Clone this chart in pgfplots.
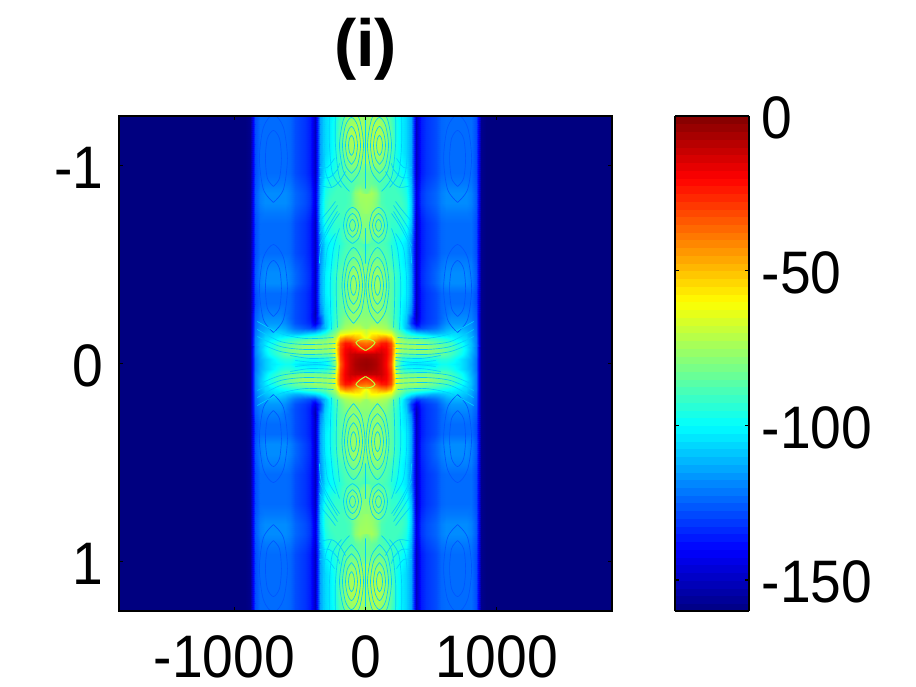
\documentclass[border=0pt]{standalone}
\usepackage{fontspec}
\setmainfont{Liberation Sans}
\newfontfamily\tickfont[FakeStretch=0.92]{Liberation Sans}
\usepackage{pgfplots}
\usepackage{pgfplotstable}
\pgfplotsset{compat=1.18}

% quadrant values, the field is mirrored about both axes
% columns: dx = 0,5,...,120 px from centre (25 per row)
% near table: dy = 0,5,...,50 px
\pgfplotstableread[row sep=\\]{
z\\
-4\\-5\\-7\\-12\\-20\\-35\\-80\\-95\\-102\\-104\\-104\\-104\\-104\\-104\\-102\\-98\\-98\\-100\\-102\\-104\\-108\\-114\\-122\\-158\\-160\\
-5\\-6\\-8\\-12\\-19\\-32\\-75\\-90\\-95\\-96\\-98\\-98\\-96\\-96\\-96\\-94\\-94\\-96\\-100\\-104\\-108\\-113\\-122\\-158\\-160\\
-10\\-10\\-10\\-12\\-18\\-30\\-68\\-80\\-82\\-82\\-82\\-82\\-82\\-82\\-84\\-84\\-86\\-90\\-94\\-98\\-104\\-112\\-120\\-158\\-160\\
-28\\-26\\-20\\-16\\-19\\-30\\-64\\-74\\-76\\-76\\-76\\-76\\-76\\-78\\-80\\-82\\-85\\-88\\-92\\-96\\-102\\-110\\-120\\-158\\-160\\
-38\\-36\\-32\\-24\\-23\\-33\\-66\\-74\\-76\\-76\\-76\\-78\\-80\\-82\\-84\\-86\\-88\\-90\\-95\\-98\\-104\\-110\\-120\\-158\\-160\\
-52\\-52\\-48\\-42\\-40\\-48\\-72\\-78\\-84\\-85\\-86\\-88\\-90\\-92\\-94\\-96\\-98\\-100\\-102\\-104\\-106\\-112\\-120\\-158\\-160\\
-62\\-60\\-60\\-62\\-64\\-66\\-80\\-88\\-96\\-102\\-106\\-108\\-110\\-112\\-112\\-110\\-108\\-106\\-106\\-108\\-110\\-114\\-122\\-158\\-160\\
-72\\-70\\-70\\-72\\-74\\-80\\-88\\-98\\-110\\-120\\-130\\-128\\-126\\-124\\-122\\-118\\-114\\-112\\-112\\-112\\-114\\-116\\-123\\-158\\-160\\
-76\\-76\\-76\\-76\\-78\\-84\\-90\\-100\\-110\\-130\\-145\\-134\\-131\\-129\\-127\\-122\\-118\\-116\\-116\\-116\\-116\\-118\\-124\\-158\\-160\\
-78\\-78\\-78\\-78\\-80\\-85\\-92\\-100\\-108\\-128\\-150\\-136\\-132\\-130\\-128\\-124\\-120\\-118\\-118\\-118\\-118\\-120\\-125\\-158\\-160\\
-80\\-78\\-78\\-78\\-82\\-86\\-92\\-100\\-106\\-120\\-152\\-136\\-132\\-130\\-128\\-124\\-122\\-120\\-120\\-120\\-120\\-121\\-126\\-158\\-160\\
}\neartable

% far table: dy = 50,60,...,250 px
\pgfplotstableread[row sep=\\]{
z\\
-80\\-78\\-78\\-78\\-82\\-86\\-92\\-100\\-106\\-120\\-152\\-136\\-132\\-130\\-128\\-124\\-122\\-120\\-120\\-120\\-120\\-121\\-126\\-158\\-160\\
-80\\-78\\-78\\-80\\-82\\-86\\-92\\-100\\-104\\-116\\-150\\-136\\-132\\-130\\-128\\-124\\-123\\-123\\-123\\-123\\-123\\-123\\-128\\-158\\-160\\
-78\\-76\\-76\\-78\\-82\\-86\\-92\\-98\\-102\\-114\\-150\\-136\\-132\\-130\\-128\\-124\\-123\\-123\\-123\\-123\\-123\\-123\\-128\\-158\\-160\\
-78\\-76\\-76\\-78\\-82\\-86\\-92\\-98\\-102\\-114\\-150\\-134\\-130\\-127\\-124\\-120\\-118\\-118\\-118\\-118\\-118\\-120\\-126\\-158\\-160\\
-78\\-76\\-76\\-78\\-82\\-86\\-92\\-98\\-102\\-114\\-150\\-134\\-130\\-127\\-124\\-120\\-118\\-118\\-118\\-118\\-118\\-120\\-126\\-158\\-160\\
-82\\-80\\-80\\-82\\-86\\-90\\-94\\-100\\-104\\-116\\-150\\-135\\-131\\-128\\-126\\-122\\-120\\-120\\-120\\-120\\-120\\-121\\-127\\-158\\-160\\
-84\\-84\\-84\\-86\\-88\\-92\\-96\\-100\\-104\\-118\\-150\\-136\\-132\\-130\\-128\\-124\\-123\\-123\\-123\\-123\\-123\\-123\\-128\\-158\\-160\\
-90\\-88\\-88\\-88\\-90\\-94\\-98\\-100\\-104\\-118\\-150\\-136\\-132\\-130\\-128\\-124\\-123\\-123\\-123\\-123\\-123\\-123\\-128\\-158\\-160\\
-82\\-80\\-80\\-82\\-86\\-92\\-94\\-96\\-100\\-114\\-150\\-136\\-132\\-130\\-128\\-124\\-123\\-123\\-123\\-123\\-123\\-123\\-128\\-158\\-160\\
-80\\-78\\-80\\-82\\-88\\-92\\-92\\-94\\-96\\-110\\-150\\-136\\-132\\-130\\-128\\-124\\-123\\-123\\-123\\-123\\-123\\-123\\-128\\-158\\-160\\
-78\\-78\\-80\\-84\\-88\\-90\\-90\\-92\\-94\\-108\\-148\\-134\\-130\\-128\\-126\\-122\\-121\\-121\\-121\\-121\\-121\\-122\\-127\\-158\\-160\\
-76\\-76\\-80\\-88\\-90\\-90\\-90\\-90\\-94\\-108\\-146\\-132\\-128\\-126\\-124\\-120\\-118\\-118\\-118\\-118\\-118\\-120\\-126\\-158\\-160\\
-74\\-74\\-78\\-88\\-90\\-90\\-90\\-92\\-96\\-110\\-146\\-132\\-128\\-126\\-124\\-120\\-118\\-118\\-118\\-118\\-118\\-120\\-126\\-158\\-160\\
-80\\-84\\-86\\-88\\-90\\-90\\-92\\-94\\-98\\-112\\-148\\-134\\-130\\-128\\-126\\-122\\-121\\-121\\-121\\-121\\-121\\-122\\-127\\-158\\-160\\
-84\\-84\\-84\\-84\\-86\\-90\\-94\\-98\\-102\\-114\\-150\\-136\\-132\\-130\\-128\\-124\\-123\\-123\\-123\\-123\\-123\\-123\\-128\\-158\\-160\\
-80\\-78\\-78\\-80\\-84\\-90\\-96\\-100\\-104\\-114\\-150\\-136\\-132\\-130\\-128\\-124\\-123\\-123\\-123\\-123\\-123\\-123\\-128\\-158\\-160\\
-76\\-74\\-74\\-76\\-80\\-88\\-96\\-102\\-106\\-114\\-150\\-136\\-132\\-130\\-128\\-124\\-123\\-123\\-123\\-123\\-123\\-123\\-128\\-158\\-160\\
-76\\-72\\-72\\-74\\-78\\-86\\-96\\-102\\-106\\-114\\-150\\-136\\-132\\-130\\-128\\-124\\-123\\-123\\-123\\-123\\-123\\-123\\-128\\-158\\-160\\
-76\\-72\\-72\\-74\\-78\\-86\\-96\\-102\\-106\\-114\\-150\\-136\\-132\\-130\\-128\\-124\\-123\\-123\\-123\\-123\\-123\\-123\\-128\\-158\\-160\\
-78\\-74\\-74\\-76\\-80\\-88\\-96\\-102\\-106\\-114\\-150\\-136\\-132\\-130\\-128\\-124\\-123\\-123\\-123\\-123\\-123\\-123\\-128\\-158\\-160\\
-80\\-76\\-76\\-78\\-82\\-90\\-98\\-102\\-106\\-114\\-150\\-136\\-132\\-130\\-128\\-124\\-123\\-123\\-123\\-123\\-123\\-123\\-128\\-158\\-160\\
}\fartable

% fringe lines in the central band, dx dy in px from centre
\pgfplotstableread[row sep=\\]{
dx dy\\
14 208\\16 211\\17 218\\16 225\\14 228\\12 225\\11 218\\12 211\\14 208\\nan nan\\
14 199\\18 205\\20 218\\18 231\\14 237\\10 231\\8 218\\10 205\\14 199\\nan nan\\
14 190\\20 198\\23 218\\20 238\\14 246\\8 238\\5 218\\8 198\\14 190\\nan nan\\
14 181\\22 192\\26 218\\22 244\\14 255\\6 244\\2 218\\6 192\\14 181\\nan nan\\
16 172\\26 186\\30 218\\30 250\\nan nan\\
24 176\\33 190\\36 218\\36 250\\nan nan\\
34 176\\40 192\\42 218\\42 250\\nan nan\\
12 68\\14 71\\15 78\\14 85\\12 88\\10 85\\9 78\\10 71\\12 68\\nan nan\\
12 59\\16 65\\18 78\\16 91\\12 97\\8 91\\6 78\\8 65\\12 59\\nan nan\\
12 50\\18 58\\21 78\\18 98\\12 106\\6 98\\3 78\\6 58\\12 50\\nan nan\\
12 40\\20 52\\23.5 78\\20 104\\12 116\\4 104\\0.5 78\\4 52\\12 40\\nan nan\\
13 132\\15 134\\16 138\\15 142\\13 144\\11 142\\10 138\\11 134\\13 132\\nan nan\\
13 126\\17 130\\19 138\\17 146\\13 150\\9 146\\7 138\\9 130\\13 126\\nan nan\\
13 120\\19 125\\22 138\\19 151\\13 156\\7 151\\4 138\\7 125\\13 120\\nan nan\\
28 36\\29 60\\29 85\\26 118\\nan nan\\
34 34\\35 60\\35 85\\32 115\\26 135\\nan nan\\
40 36\\41 60\\41 85\\38 115\\30 130\\nan nan\\
46 100\\44 118\\34 138\\26 150\\nan nan\\
46 118\\38 135\\28 152\\nan nan\\
46 130\\36 146\\28 158\\nan nan\\
46 142\\36 154\\30 162\\nan nan\\
46 178\\34 176\\26 182\\20 192\\nan nan\\
46 186\\36 186\\28 194\\26 200\\nan nan\\
46 196\\38 196\\31 205\\nan nan\\
0 175\\0 250\\nan nan\\
0 100\\0 135\\nan nan\\
30 10\\60 9\\85 12\\105 20\\nan nan\\
30 15\\60 14\\85 17\\108 27\\nan nan\\
30 20\\60 19\\85 22\\108 34\\nan nan\\
32 26\\60 25\\85 30\\108 42\\nan nan\\
30 3\\50 1\\70 3\\nan nan\\
30 6\\55 5\\75 8\\
}\fringetable

% fainter rings in the side bands
\pgfplotstableread[row sep=\\]{
dx dy\\
92 47\\98 55\\100 75\\98 95\\92 103\\86 95\\84 75\\86 55\\92 47\\nan nan\\
92 31\\102 44\\106 75\\102 106\\92 119\\82 106\\78 75\\82 44\\92 31\\nan nan\\
92 177\\98 185\\100 205\\98 225\\92 233\\86 225\\84 205\\86 185\\92 177\\nan nan\\
92 161\\102 174\\106 205\\102 236\\92 249\\82 236\\78 205\\82 174\\92 161\\
}\sidetable

% small cap above and below the red square
\pgfplotstableread[row sep=\\]{
dx dy\\
0 24.5\\5 24\\9.5 21\\5 16\\0 13\\
}\captable

% draw one quadrant: #1 table, #2 y step, #3 y start, #4 sign x, #5 sign y
\newcommand{\quadrant}[5]{
  \addplot[surf,shader=interp,mesh/cols=25,point meta=\thisrow{z}] table[
    x index=0,y index=0,
    x expr={#4*mod(\coordindex,25)*38.17},
    y expr={#5*(#3+floor(\coordindex/25)*#2)}
  ] {#1};
}
% same curves in all four quadrants: #1 table, #2 plot options
\newcommand{\fourway}[2]{
  \addplot[no marks,smooth,unbounded coords=jump,#2] table[x expr={\thisrow{dx}*7.634},y expr={\thisrow{dy}*0.005053}] {#1};
  \addplot[no marks,smooth,unbounded coords=jump,#2] table[x expr={-\thisrow{dx}*7.634},y expr={\thisrow{dy}*0.005053}] {#1};
  \addplot[no marks,smooth,unbounded coords=jump,#2] table[x expr={\thisrow{dx}*7.634},y expr={-\thisrow{dy}*0.005053}] {#1};
  \addplot[no marks,smooth,unbounded coords=jump,#2] table[x expr={-\thisrow{dx}*7.634},y expr={-\thisrow{dy}*0.005053}] {#1};
}
\definecolor{fringe}{RGB}{0,205,255}
\definecolor{sidefringe}{RGB}{0,85,255}
\definecolor{capline}{RGB}{190,255,60}

\begin{document}
\begin{tikzpicture}[x=1pt,y=1pt]
\path[use as bounding box] (0,0) rectangle (687,514.5);
\begin{axis}[
  at={(89.25pt,56.25pt)},anchor=south west,
  scale only axis,
  width=369.75pt,height=371.25pt,
  xmin=-1880,xmax=1880,
  ymin=-1.25,ymax=1.25,
  y dir=reverse,
  axis on top,
  axis line style={line width=1.5pt},
  tick align=inside,
  major tick length=3pt,
  tick style={line width=1pt,black},
  xtick={-1000,0,1000},
  xticklabels={-1000\hspace*{15pt},0,1000},
  ytick={-1,0,1},
  yticklabels={-1,0,1},
  tick label style={font=\tickfont\fontsize{45}{45}\selectfont},
  xticklabel style={inner sep=0pt,yshift=-18.5pt},
  yticklabel style={xshift=-8pt,yshift=-1.5pt},
  title={\bfseries (i)},
  title style={font=\fontsize{50}{50}\selectfont,yshift=17pt},
  colormap/jet,
  point meta min=-160,point meta max=0,
  colorbar sampled,
  colorbar style={
    samples=65,
    at={(1.1278,0)},anchor=south west,
    scale only axis,
    width=55.5pt,height=371.25pt,
    y dir=normal,
    axis line style={line width=1.5pt},
    ytick={-150,-100,-50,0},
    yticklabels={-150,-100,-50,0},
    ytick pos=both,
    yticklabel pos=right,
    tick align=inside,
    major tick length=3pt,
    yticklabel style={font=\tickfont\fontsize{45}{45}\selectfont,xshift=6pt,yshift=-1.5pt},
  },
]
\quadrant{\neartable}{0.02527}{0}{1}{1}
\quadrant{\neartable}{0.02527}{0}{-1}{1}
\quadrant{\neartable}{0.02527}{0}{1}{-1}
\quadrant{\neartable}{0.02527}{0}{-1}{-1}
\quadrant{\fartable}{0.05053}{0.25265}{1}{1}
\quadrant{\fartable}{0.05053}{0.25265}{-1}{1}
\quadrant{\fartable}{0.05053}{0.25265}{1}{-1}
\quadrant{\fartable}{0.05053}{0.25265}{-1}{-1}
% dark outer strips
\addplot[surf,shader=interp,mesh/cols=2,point meta=explicit] coordinates {
  (916,-1.25)[-160] (1880,-1.25)[-160]
  (916,1.25)[-160] (1880,1.25)[-160]
};
\addplot[surf,shader=interp,mesh/cols=2,point meta=explicit] coordinates {
  (-1880,-1.25)[-160] (-916,-1.25)[-160]
  (-1880,1.25)[-160] (-916,1.25)[-160]
};
\fourway{\sidetable}{sidefringe,line width=0.5pt}
\fourway{\fringetable}{fringe,line width=0.5pt}
\fourway{\captable}{capline,line width=0.75pt}
\end{axis}
\end{tikzpicture}
\end{document}
